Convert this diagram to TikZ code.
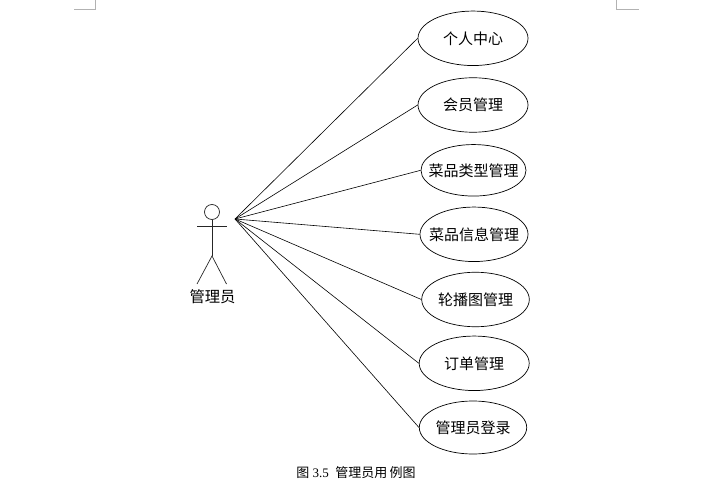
\documentclass[tikz,border=0pt]{standalone}
\usepackage{fontspec}
\setmainfont{Liberation Serif}
\newfontfamily\cjk{Noto Sans CJK SC}
\usetikzlibrary{shapes.geometric}
\newcommand{\casetext}[1]{\makebox[0pt]{#1}}

\begin{document}
\begin{tikzpicture}[
    x=1pt, y=-1pt,
    usecase/.style={draw, ellipse, inner sep=0pt, minimum width=110pt, minimum height=54.5pt, line width=0.7pt, font=\cjk\fontsize{15}{17}\selectfont},
    link/.style={line width=0.6pt},
    stick/.style={line width=0.7pt, draw=black!85},
    cropmark/.style={line width=0.7pt, draw=black!30},
]
\useasboundingbox (0,0) rectangle (719,486);

% use cases
\node[usecase] (center) at (473,38.3) {\casetext{个人中心}};
\node[usecase] (member) at (473,105) {\casetext{会员管理}};
\node[usecase, minimum width=105pt, minimum height=51.5pt] (dishtype) at (473.5,170.3) {\casetext{菜品类型管理}};
\node[usecase, minimum width=108pt] (dishinfo) at (474,234.3) {\casetext{菜品信息管理}};
\node[usecase, minimum width=107.6pt] (banner) at (475.5,299.5) {\casetext{轮播图管理}};
\node[usecase] (order) at (474.2,363.3) {\casetext{订单管理}};
\node[usecase, minimum width=107.4pt, minimum height=53pt] (login) at (473,427.5) {\casetext{管理员登录}};

% actor
\node[draw, circle, stick, minimum size=15pt, inner sep=0pt] (head) at (212,212) {};
\coordinate (hip) at (212,256);
\coordinate (armL) at (197,226.5);
\coordinate (armR) at (226.5,226.5);
\coordinate (footL) at (197,284);
\coordinate (footR) at (226.5,284);
\draw[stick] (head) -- (hip);
\draw[stick] (armL) -- (armR);
\draw[stick] (footL) -- (hip) -- (footR);
\node[font=\cjk\fontsize{15.3}{17}\selectfont] (admin) at (212.5,297) {管理员};

% connectors
\coordinate (hub) at (235,219);
\draw[link] (hub) -- (center.west);
\draw[link] (hub) -- (member.west);
\draw[link] (hub) -- (dishtype.west);
\draw[link] (hub) -- (dishinfo.west);
\draw[link] (hub) -- (banner.west);
\draw[link] (hub) -- (order.west);
\draw[link] (hub) -- (login.west);

% caption
\node[font=\fontsize{13}{15}\selectfont] (caption) at (356,473) {{\cjk 图}\ 3.5\ \ {\cjk 管理员用\,例图}};

% page corners
\draw[cropmark] (74,9) -- (95.5,9) -- (95.5,0);
\draw[cropmark] (616.5,0) -- (616.5,9) -- (639,9);
\end{tikzpicture}
\end{document}
